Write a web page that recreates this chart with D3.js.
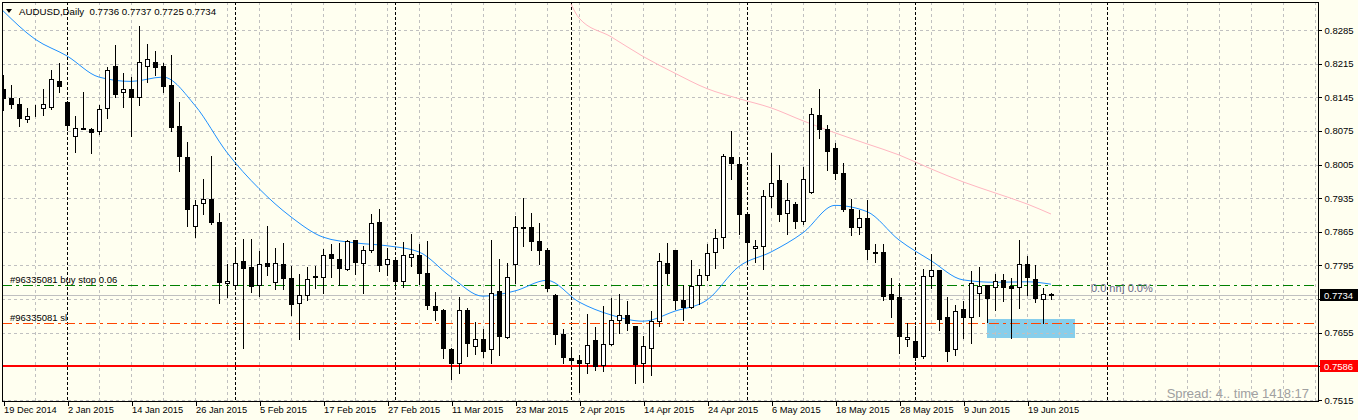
<!DOCTYPE html>
<html><head><meta charset="utf-8">
<script src="https://cdn.jsdelivr.net/npm/d3@7"></script>
<style>
html,body{margin:0;padding:0;background:#FFFFF0;}
svg{display:block;}
text{font-family:"Liberation Sans",Arial,sans-serif;}
</style></head><body>
<svg id="chart" width="1358" height="420"></svg>
<script>
// ---- data ----
const symbolTitle = "AUDUSD,Daily  0.7736 0.7737 0.7725 0.7734";
const opens  = [0.8163,0.8143,0.8132,0.8099,0.8120,0.8122,0.8125,0.8179,0.8136,0.8065,0.8082,0.8080,0.8075,0.8122,0.8210,0.8155,0.8162,0.8146,0.8211,0.8218,0.8210,0.8170,0.8085,0.8021,0.7877,0.7924,0.7933,0.7885,0.7759,0.7755,0.7804,0.7791,0.7755,0.7800,0.7761,0.7797,0.7769,0.7716,0.7734,0.7772,0.7772,0.7818,0.7808,0.7788,0.7848,0.7800,0.7828,0.7885,0.7799,0.7806,0.7763,0.7813,0.7816,0.7779,0.7710,0.7703,0.7622,0.7591,0.7702,0.7627,0.7641,0.7622,0.7741,0.7647,0.7797,0.7876,0.7875,0.7846,0.7827,0.7733,0.7652,0.7603,0.7598,0.7591,0.7639,0.7587,0.7632,0.7681,0.7691,0.7668,0.7591,0.7623,0.7679,0.7801,0.7827,0.7723,0.7709,0.7754,0.7776,0.7822,0.7854,0.8020,0.8006,0.7903,0.7832,0.7836,0.7939,0.7972,0.7904,0.7923,0.7887,0.7948,0.8109,0.8079,0.8040,0.7988,0.7913,0.7874,0.7893,0.7822,0.7823,0.7735,0.7729,0.7642,0.7637,0.7607,0.7773,0.7785,0.7688,0.7622,0.7705,0.7688,0.7738,0.7754,0.7750,0.7764,0.7752,0.7750,0.7799,0.7766,0.7726,0.7736];
const highs  = [0.8191,0.8170,0.8143,0.8122,0.8129,0.8162,0.8202,0.8216,0.8137,0.8106,0.8157,0.8082,0.8129,0.8209,0.8254,0.8195,0.8188,0.8293,0.8256,0.8242,0.8217,0.8233,0.8136,0.8052,0.7932,0.7975,0.8023,0.7905,0.7797,0.7830,0.7851,0.7850,0.7825,0.7877,0.7832,0.7841,0.7793,0.7778,0.7791,0.7793,0.7829,0.7839,0.7842,0.7848,0.7849,0.7835,0.7902,0.7912,0.7832,0.7807,0.7843,0.7860,0.7839,0.7845,0.7739,0.7705,0.7623,0.7730,0.7707,0.7677,0.7663,0.7848,0.7808,0.7801,0.7897,0.7936,0.7904,0.7884,0.7832,0.7735,0.7663,0.7622,0.7609,0.7693,0.7666,0.7710,0.7727,0.7736,0.7720,0.7669,0.7648,0.7700,0.7820,0.7841,0.7828,0.7754,0.7806,0.7788,0.7839,0.7870,0.8026,0.8075,0.8020,0.7904,0.7848,0.7953,0.8028,0.8004,0.7966,0.7927,0.7999,0.8122,0.8162,0.8087,0.8049,0.8009,0.7933,0.7911,0.7931,0.7839,0.7839,0.7769,0.7759,0.7676,0.7668,0.7788,0.7818,0.7786,0.7729,0.7712,0.7722,0.7784,0.7792,0.7755,0.7777,0.7778,0.7769,0.7848,0.7814,0.7795,0.7748,0.7737];
const lows   = [0.8118,0.8123,0.8086,0.8094,0.8106,0.8109,0.8120,0.8157,0.8077,0.8032,0.8078,0.8029,0.8068,0.8102,0.8146,0.8125,0.8065,0.8129,0.8177,0.8191,0.8157,0.8075,0.7991,0.7877,0.7854,0.7903,0.7881,0.7717,0.7729,0.7750,0.7623,0.7740,0.7731,0.7775,0.7747,0.7747,0.7691,0.7642,0.7724,0.7748,0.7738,0.7770,0.7755,0.7786,0.7778,0.7738,0.7822,0.7784,0.7775,0.7750,0.7750,0.7793,0.7757,0.7704,0.7682,0.7603,0.7559,0.7571,0.7607,0.7611,0.7604,0.7591,0.7609,0.7643,0.7759,0.7836,0.7827,0.7797,0.7742,0.7632,0.7591,0.7591,0.7532,0.7571,0.7578,0.7575,0.7629,0.7655,0.7661,0.7550,0.7552,0.7568,0.7670,0.7757,0.7705,0.7681,0.7707,0.7714,0.7764,0.7790,0.7832,0.7974,0.7861,0.7800,0.7802,0.7788,0.7917,0.7888,0.7861,0.7873,0.7882,0.7946,0.8061,0.7993,0.7974,0.7909,0.7858,0.7861,0.7809,0.7802,0.7724,0.7688,0.7613,0.7627,0.7598,0.7602,0.7748,0.7660,0.7596,0.7608,0.7643,0.7634,0.7690,0.7677,0.7702,0.7720,0.7643,0.7707,0.7733,0.7719,0.7676,0.7725];
const closes = [0.8143,0.8132,0.8102,0.8106,0.8121,0.8132,0.8182,0.8169,0.8087,0.8082,0.8079,0.8073,0.8120,0.8202,0.8152,0.8163,0.8146,0.8218,0.8224,0.8209,0.8169,0.8084,0.8023,0.7913,0.7920,0.7934,0.7886,0.7761,0.7763,0.7801,0.7790,0.7752,0.7797,0.7794,0.7801,0.7769,0.7715,0.7734,0.7766,0.7773,0.7816,0.7811,0.7790,0.7845,0.7802,0.7828,0.7884,0.7795,0.7809,0.7763,0.7816,0.7818,0.7779,0.7712,0.7703,0.7623,0.7591,0.7702,0.7634,0.7641,0.7618,0.7738,0.7648,0.7772,0.7876,0.7873,0.7846,0.7827,0.7748,0.7652,0.7604,0.7598,0.7591,0.7629,0.7585,0.7632,0.7682,0.7691,0.7675,0.7589,0.7627,0.7679,0.7804,0.7779,0.7724,0.7709,0.7752,0.7776,0.7820,0.7853,0.8023,0.8009,0.7903,0.7844,0.7836,0.7940,0.7966,0.7902,0.7932,0.7888,0.7974,0.8111,0.8078,0.8034,0.7988,0.7913,0.7874,0.7893,0.7829,0.7821,0.7731,0.7725,0.7648,0.7647,0.7604,0.7773,0.7785,0.7683,0.7617,0.7700,0.7688,0.7759,0.7752,0.7727,0.7763,0.7750,0.7748,0.7799,0.7771,0.7727,0.7735,0.7734];

const dateLabels = ["19 Dec 2014","2 Jan 2015","14 Jan 2015","26 Jan 2015","5 Feb 2015","17 Feb 2015","27 Feb 2015","11 Mar 2015","23 Mar 2015","2 Apr 2015","14 Apr 2015","24 Apr 2015","6 May 2015","18 May 2015","28 May 2015","9 Jun 2015","19 Jun 2015"];
const dateLabelBars = [0,8,16,24,32,40,48,56,64,72,80,88,96,104,112,120,128];
const priceTicks = [0.8285,0.8215,0.8145,0.8075,0.8005,0.7935,0.7865,0.7795,0.7725,0.7655,0.7585,0.7515];
const monthSeparatorBars = [8,29,49,71,93,114,138];

const maBars = [0,4,8,12,16,20,24,28,32,36,40,44,48,52,56,60,64,68,72,76,80,84,88,92,96,100,104,108,112,116,120,124,128,131];
const maValues = [0.8325,0.8266,0.8231,0.8187,0.8178,0.8187,0.8128,0.8030,0.7955,0.7896,0.7854,0.7842,0.7836,0.7823,0.7771,0.7731,0.7742,0.7764,0.7719,0.7692,0.7679,0.7700,0.7723,0.7793,0.7823,0.7863,0.7920,0.7907,0.7848,0.7805,0.7765,0.7760,0.7761,0.7756];
const slowMaBars = [71,72,76,80,84,88,92,96,100,104,108,112,116,120,124,128,131];
const slowMaValues = [0.8339,0.8310,0.8271,0.8230,0.8195,0.8163,0.8142,0.8123,0.8096,0.8071,0.8048,0.8025,0.7996,0.7969,0.7946,0.7923,0.7902];

const bidPrice = 0.7734;
const buyStopPrice = 0.7755;
const stopLossPrice = 0.7676;
const supportPrice = 0.7586;
const zoneBars = [123,134];
const zonePrices = [0.7645,0.7684];
const buyStopLabel = "#96335081 buy stop 0.06";
const stopLossLabel = "#96335081 sl";
const fiboLabel = "0.0 nn] 0.0%";
const infoLabel = "Spread: 4.. time 1418:17";

(function(){
// ---- layout ----
const W = 1358, H = 420;
const pL = 2, pR = 1318, pT = 2, pB = 401;
const x = d3.scaleLinear().domain([0,164]).range([3,1315]);
const y = d3.scaleLinear().domain([0.7515,0.8285]).range([400,30]);
const px = v => Math.round(v) + 0.5;
const FONT = '"Liberation Sans",Arial,sans-serif';

const svg = d3.select('#chart');
svg.append('rect').attr('width',W).attr('height',H).attr('fill','#FFFFF0');
svg.append('defs').append('clipPath').attr('id','plot')
  .append('rect').attr('x',pL+1).attr('y',pT+1).attr('width',pR-pL-1).attr('height',pB-pT-1);
const plot = svg.append('g').attr('clip-path','url(#plot)');

// zone rectangle
plot.append('rect')
  .attr('x', Math.round(x(zoneBars[0]))).attr('y', Math.round(y(zonePrices[1])))
  .attr('width', Math.round(x(zoneBars[1]) - x(zoneBars[0])))
  .attr('height', Math.round(y(zonePrices[0]) - y(zonePrices[1])))
  .attr('fill','#87CEEB');

// grid
const gridBars = d3.range(4,165,4);
plot.selectAll('.hg').data(priceTicks).join('line')
  .attr('x1',pL).attr('x2',pR).attr('y1',d=>px(y(d))).attr('y2',d=>px(y(d)))
  .attr('stroke','#C0C0C0').attr('stroke-dasharray','3,3').attr('shape-rendering','crispEdges');
plot.selectAll('.vg').data(gridBars.filter(b=>!monthSeparatorBars.includes(b))).join('line')
  .attr('x1',d=>px(x(d))).attr('x2',d=>px(x(d))).attr('y1',pT).attr('y2',pB)
  .attr('stroke','#C0C0C0').attr('stroke-dasharray','3,3').attr('shape-rendering','crispEdges');
plot.selectAll('.sep').data(monthSeparatorBars).join('line')
  .attr('x1',d=>px(x(d))).attr('x2',d=>px(x(d))).attr('y1',pT).attr('y2',pB)
  .attr('stroke','#000').attr('stroke-dasharray','3,2').attr('shape-rendering','crispEdges');

// level lines
const hline = (p, color, dash, w) => plot.append('line')
  .attr('x1',pL).attr('x2',pR).attr('y1',px(y(p))).attr('y2',px(y(p)))
  .attr('stroke',color).attr('stroke-width',w||1).attr('stroke-dasharray',dash||null)
  .attr('shape-rendering','crispEdges');
hline(bidPrice,'#C0C0C0');
hline(buyStopPrice,'#008000','10,4,3,4');
hline(stopLossPrice,'#FF4500','10,4,3,4');
plot.append('line').attr('x1',pL).attr('x2',pR)
  .attr('y1',Math.round(y(supportPrice))).attr('y2',Math.round(y(supportPrice)))
  .attr('stroke','#FF0000').attr('stroke-width',2).attr('shape-rendering','crispEdges');

// moving averages
const line = d3.line().curve(d3.curveMonotoneX);
plot.append('path').attr('d', line(maBars.map((b,i)=>[x(b), y(maValues[i])])))
  .attr('fill','none').attr('stroke','#1E90FF').attr('stroke-width',1);
plot.append('path').attr('d', line(slowMaBars.map((b,i)=>[x(b), y(slowMaValues[i])])))
  .attr('fill','none').attr('stroke','#FFB6C1').attr('stroke-width',1);

// candles
const bars = opens.map((o,i)=>({i,o,h:highs[i],l:lows[i],c:closes[i]}));
const cg = plot.append('g').attr('shape-rendering','crispEdges');
cg.selectAll('.wick').data(bars).join('line')
  .attr('x1',d=>px(x(d.i))).attr('x2',d=>px(x(d.i)))
  .attr('y1',d=>Math.round(y(d.h))).attr('y2',d=>Math.round(y(d.l))+1)
  .attr('stroke','#000');
cg.selectAll('.body').data(bars).join('rect')
  .attr('x',d=>Math.round(x(d.i))-2+0.5)
  .attr('y',d=>px(y(Math.max(d.o,d.c))))
  .attr('width',4)
  .attr('height',d=>Math.max(0, Math.round(y(Math.min(d.o,d.c))) - Math.round(y(Math.max(d.o,d.c)))))
  .attr('fill',d=>d.c>=d.o?'#FFFFFF':'#000000')
  .attr('stroke','#000');

// texts in plot
svg.append('path').attr('d','M6,9 L12,9 L9,13 Z').attr('fill','#000');
svg.append('text').attr('x',19).attr('y',15).attr('font-size',9.7).attr('fill','#000').style('white-space','pre').text(symbolTitle);
svg.append('text').attr('x',10).attr('y',px(y(buyStopPrice))-3).attr('font-size',9.5).attr('fill','#000').text(buyStopLabel);
svg.append('text').attr('x',10).attr('y',px(y(stopLossPrice))-3).attr('font-size',9.5).attr('fill','#000').text(stopLossLabel);
svg.append('text').attr('x',1091).attr('y',px(y(buyStopPrice))+6).attr('font-size',11).attr('fill','#6A6A8A').text(fiboLabel);
svg.append('text').attr('x',1309).attr('y',398).attr('text-anchor','end').attr('font-size',13).attr('fill','#A0A0A0').text(infoLabel);

// frame
svg.append('rect').attr('x',pL+0.5).attr('y',pT+0.5).attr('width',pR-pL).attr('height',pB-pT)
  .attr('fill','none').attr('stroke','#000').attr('shape-rendering','crispEdges');

// price axis (labels hidden behind the price boxes are left blank)
const boxPrices = [bidPrice, supportPrice];
const hidden = d => boxPrices.some(p => Math.abs(y(p) - y(d)) < 9);
const yAxis = d3.axisRight(y).tickValues(priceTicks).tickSize(3)
  .tickFormat(d => hidden(d) ? '' : d3.format('.4f')(d));
const ya = svg.append('g').attr('transform',`translate(${pR+0.5},0)`).call(yAxis);
ya.select('.domain').remove();
ya.selectAll('text').attr('font-size',9.5).attr('font-family',FONT).attr('fill','#000').attr('x',6);
ya.selectAll('line').attr('stroke','#000').attr('shape-rendering','crispEdges');

// price boxes
const box = (p, bg) => {
  const g = svg.append('g');
  g.append('rect').attr('x',pR+2).attr('y',Math.round(y(p))-6).attr('width',38).attr('height',12).attr('fill',bg);
  g.append('text').attr('x',pR+6).attr('y',Math.round(y(p))+4).attr('font-size',9.5).attr('font-family',FONT).attr('fill','#fff').text(d3.format('.4f')(p));
};
box(bidPrice,'#000');
box(supportPrice,'#FF0000');

// time axis
const xAxis = d3.axisBottom(x).tickValues(dateLabelBars).tickSize(4).tickFormat((d,i)=>dateLabels[i]);
const xa = svg.append('g').attr('transform',`translate(0.5,${pB+0.5})`).call(xAxis);
xa.select('.domain').remove();
xa.selectAll('line').attr('stroke','#000').attr('shape-rendering','crispEdges');
xa.selectAll('text').attr('font-size',9.3).attr('font-family',FONT).attr('fill','#000')
  .attr('text-anchor','start').attr('x',0).attr('y',5).attr('dy','0.71em');
})();
</script>
</body></html>
